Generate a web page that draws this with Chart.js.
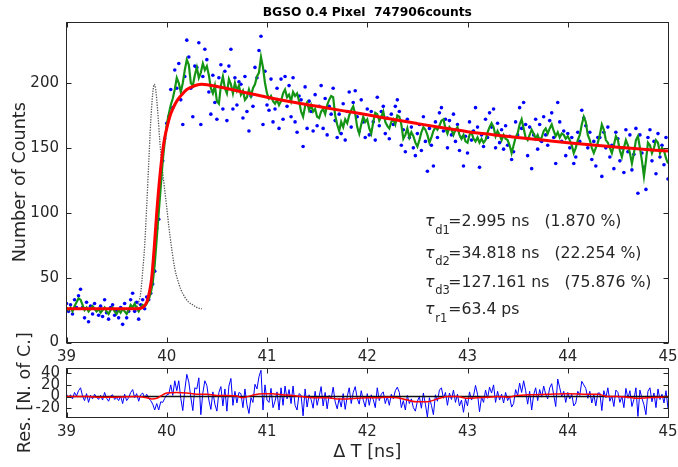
<!DOCTYPE html>
<html>
<head>
<meta charset="utf-8">
<script src="https://cdn.jsdelivr.net/npm/chart.js@4.4.0/dist/chart.umd.min.js"></script>
<style>
  html, body { margin: 0; padding: 0; background: #fff; }
  #wrap { position: relative; width: 678px; height: 467px; }
  #wrap canvas { position: absolute; left: 0; top: 0; }
</style>
</head>
<body>
<div id="wrap">
  <canvas id="decay" width="678" height="467"></canvas>
  <canvas id="resid" width="678" height="467"></canvas>
</div>
<script>
// time grid of the histogram (ns)
const T_START = 39, T_STEP = 0.02;

// measured counts (blue dots)
const counts = [
  30,24,29,22,33,27,36,41,27,19, 31,16,28,22,30,25,21,28,20,33,
  23,18,27,29,21,24,19,27,14,30, 19,24,33,38,24,31,18,29,33,26,
  35,33,38,45,55,88,95,126,140,157, 169,174,195,181,210,196,215,187,168,205,
  233,220,196,174,213,212,231,168,205,226, 218,193,176,206,185,172,204,214,180,209,
  171,213,226,180,204,183,201,199,173,205, 178,163,190,182,212,204,225,236,168,209,
  183,179,203,170,180,196,165,203,172,205, 182,198,174,204,170,162,190,187,151,197,
  165,186,178,163,191,167,182,198,165,188, 160,182,176,196,171,158,176,161,184,156,
  178,193,166,185,194,174,163,187,170,158, 180,160,178,170,156,189,167,178,182,161,
  173,157,176,168,182,187,178,152,164,147, 172,158,166,150,144,161,168,148,174,155,
  132,165,152,136,170,158,177,181,163,172, 150,171,160,176,155,168,148,158,136,159,
  146,170,156,163,181,166,135,160,151,172, 158,177,166,180,150,169,154,164,149,167,
  152,159,141,147,170,160,181,165,185,168, 144,166,134,160,172,149,168,155,174,160,
  152,171,177,158,138,185,170,155,163,144, 161,150,158,138,143,162,155,179,173,167,
  150,162,141,155,136,158,158,128,162,150, 166,143,152,134,162,157,140,150,131,164,
  147,160,133,145,165,115,160,146,135,118, 158,164,140,155,130,161,143,152,137,158,
  126
];

// smoothed counts (green line)
const smooth = [
  27,25,27,24,28,31,34,33,29,25, 27,24,26,28,26,24,26,23,25,27,
  24,22,25,27,24,22,25,23,26,24, 22,25,29,27,30,26,24,27,29,28,
  30,33,38,46,60,80,100,120,140,155, 168,176,183,188,195,204,200,193,200,210,
  218,214,200,198,206,212,204,208,215,210, 213,206,196,192,198,186,184,198,205,196,
  192,203,199,192,200,194,198,191,194,187, 189,195,190,196,199,205,208,220,212,200,
  192,188,190,186,184,187,183,186,192,195, 189,191,186,193,190,192,186,178,174,182,
  185,179,183,178,180,174,173,178,180,176, 183,187,190,189,175,168,163,170,166,172,
  169,175,179,182,176,166,161,168,174,170, 172,165,161,170,177,176,171,174,178,170,
  167,165,170,172,168,175,174,168,157,160, 165,158,162,159,154,151,156,162,166,164,
  160,154,158,163,166,164,167,171,172,165, 161,166,164,160,164,166,160,157,160,155,
  154,160,162,157,155,158,154,157,154,156, 162,166,169,166,159,163,160,156,160,157,
  156,152,146,152,158,161,168,172,165,158, 156,160,164,161,157,160,156,158,163,165,
  161,165,168,163,159,162,158,161,160,157, 159,156,152,146,150,156,160,168,174,170,
  160,156,150,146,150,154,160,168,164,156, 154,150,146,152,159,156,148,143,150,156,
  152,146,138,146,156,159,150,140,128,140, 154,152,146,150,156,154,146,150,148,142,
  138
];

// residuals (blue line, lower panel)
const resid = [
  4,-2,3,-4,7,1,10,15,1,-7, 5,-10,2,-4,4,-1,-5,2,-6,7,
  -3,-8,1,3,-5,-2,-7,1,-12,4, -7,-2,7,12,-2,5,-8,3,6,-2,
  4,-3,-7,-13,-23,-12,-23,-9,-10,-3, 3,4,20,2,27,10,27,-3,-24,11,
  38,25,-1,-24,15,13,32,-31,6,27, 19,-6,-22,8,-13,-25,7,17,-16,13,
  -25,18,31,-15,9,-11,7,5,-19,13, -14,-29,-2,-10,21,13,34,45,-23,20,
  -6,-10,14,-19,-8,8,-23,15,-15,18, -4,12,-12,18,-15,-23,5,2,-33,13,
  -18,3,-5,-20,9,-15,0,17,-16,7, -21,2,-4,16,-9,-21,-3,-18,5,-22,
  0,15,-12,7,17,-3,-13,10,-6,-18, 5,-15,3,-5,-19,15,-7,4,8,-12,
  0,-15,4,-4,10,16,7,-19,-7,-23, 2,-12,-4,-19,-25,-8,0,-20,6,-13,
  -35,-2,-15,-31,3,-8,11,15,-3,7, -15,6,-5,11,-10,4,-16,-6,-27,-4,
  -16,8,-6,1,19,4,-26,-1,-10,11, -3,16,6,20,-10,9,-6,4,-11,7,
  -7,0,-18,-12,12,2,23,7,27,10, -13,9,-23,3,15,-7,12,-1,18,4,
  -4,15,22,3,-17,30,15,0,9,-10, 7,-4,4,-16,-11,9,2,26,20,14,
  -3,9,-11,3,-16,6,6,-24,10,-2, 15,-8,1,-17,11,7,-10,0,-19,14,
  -3,10,-17,-5,15,-34,11,-3,-14,-31, 9,15,-9,6,-19,13,-5,4,-11,10,
  -21
];

// fitted model (red line, upper panel)
const fitT = [39.0, 39.5, 39.7, 39.76, 39.8, 39.83, 39.85, 39.875, 39.9, 39.93, 39.96, 39.98, 40.0, 40.03, 40.06,
              40.1, 40.15, 40.2, 40.25, 40.3, 40.35, 40.4, 40.5, 40.6, 40.8, 41.0, 41.25, 41.5, 41.75, 42.0,
              42.25, 42.5, 42.75, 43.0, 43.25, 43.5, 43.75, 44.0, 44.25, 44.5, 44.75, 45.0];
const fitY = [26, 26, 26, 27, 31, 40, 50, 73, 100, 127, 148, 158, 165, 174, 180,
              186, 191, 195, 197, 198.5, 199, 198.7, 197.3, 195.7, 192.3, 189, 185.3, 182, 178.7, 175.5,
              172, 168.7, 165.5, 162.5, 160.2, 158, 156, 154, 152.2, 150.5, 149, 147.5];

// instrument response (grey dotted)
const irfT = [39.66, 39.68, 39.70, 39.72, 39.74, 39.76, 39.78, 39.80, 39.82, 39.84, 39.86, 39.875, 39.89, 39.91,
              39.93, 39.95, 39.97, 40.00, 40.02, 40.05, 40.08, 40.11, 40.14, 40.18, 40.22, 40.26, 40.30, 40.35];
const irfY = [26, 26, 27, 31, 38, 55, 75, 105, 138, 170, 192, 199, 195, 178,
              156, 138, 124, 104, 90, 72, 57, 48, 41, 35, 31, 29, 27, 26];

// smoothed residual (red line, lower panel)
const resFitT = [39.0, 39.2, 39.3, 39.5, 39.7, 39.8, 39.85, 39.9, 39.95, 40.0, 40.1, 40.2, 40.3, 40.4, 40.5,
                 40.6, 40.7, 40.75, 40.85, 40.95, 41.05, 41.15, 41.25, 41.35, 41.45, 41.6, 41.7, 41.8, 41.9, 42.0,
                 42.1, 42.2, 42.3, 42.4, 42.5, 42.6, 42.7, 42.8, 42.9, 43.0, 43.1, 43.2, 43.3, 43.4, 43.5,
                 43.6, 43.8, 44.0, 44.2, 44.3, 44.4, 44.5, 44.6, 44.7, 44.8, 45.0];
const resFitY = [0, 0, -1, -1, 0, -2, -4, -3, 2, 6, 7, 6, 4, 4, 2,
                 2, 1, -2, 2, 5, 5, 3, 2, 0, -2, -2, -4, -4, -3, -2,
                 -2, -1, -2, -6, -9, -9, -4, 0, 0, -3, -2, -1, 0, -1, 2,
                 3, 4, 5, 4, 4, 0, 0, -1, -3, -2, -1];

// tick labels
const xTicks = [39, 40, 41, 42, 43, 44, 45];
const yTicks = [0, 50, 100, 150, 200];
const resTicks = [-20, 0, 20, 40];

const FONT = '"DejaVu Sans"';
const INK = '#262626';
Chart.defaults.font.family = FONT;

const onGrid = (arr) => arr.map((v, i) => ({ x: T_START + i * T_STEP, y: v }));
const pairs = (xs, ys) => xs.map((x, i) => ({ x: x, y: ys[i] }));
const setTicks = (list) => (s) => { s.ticks = list.map(v => ({ value: v })); };
const tickOpts = (pad) => ({ font: { size: 15 }, color: INK, padding: pad, autoSkip: false, maxRotation: 0 });

// box round the plot area with inward tick marks
const frame = {
  id: 'frame',
  afterDraw(chart) {
    const { ctx, chartArea: a, scales } = chart;
    const L = Math.floor(a.left) + 0.5, R = Math.floor(a.right) + 0.5;
    const T = Math.floor(a.top) + 0.5, B = Math.floor(a.bottom) + 0.5;
    ctx.save();
    ctx.strokeStyle = INK;
    ctx.lineWidth = 1;
    ctx.strokeRect(L, T, R - L, B - T);
    ctx.beginPath();
    scales.x.ticks.forEach(t => {
      const px = Math.round(scales.x.getPixelForValue(t.value)) + 0.5;
      ctx.moveTo(px, B); ctx.lineTo(px, B - 5);
      ctx.moveTo(px, T); ctx.lineTo(px, T + 5);
    });
    scales.y.ticks.forEach(t => {
      const py = Math.round(scales.y.getPixelForValue(t.value)) + 0.5;
      ctx.moveTo(L, py); ctx.lineTo(L + 5, py);
      ctx.moveTo(R, py); ctx.lineTo(R - 5, py);
    });
    ctx.stroke();
    ctx.restore();
  }
};

function tauLine(ctx, x, y, sub, rest) {
  ctx.textAlign = 'left';
  ctx.textBaseline = 'alphabetic';
  ctx.font = 'italic 15.7px ' + FONT;
  ctx.fillText('τ', x, y);
  ctx.font = '11.5px ' + FONT;
  ctx.fillText(sub, x + 10.2, y + 7.5);
  ctx.font = '15.7px ' + FONT;
  ctx.fillText(rest, x + 23.3, y);
}

const decayText = {
  id: 'decayText',
  afterDraw(chart) {
    const ctx = chart.ctx, a = chart.chartArea;
    ctx.save();
    ctx.fillStyle = '#000';
    ctx.font = 'bold 12.3px ' + FONT;
    ctx.textAlign = 'center';
    ctx.textBaseline = 'alphabetic';
    ctx.fillText('BGSO 0.4 Pixel  747906counts', (a.left + a.right) / 2, 15.7);

    ctx.fillStyle = INK;
    ctx.save();
    ctx.translate(25, (a.top + a.bottom) / 2);
    ctx.rotate(-Math.PI / 2);
    ctx.font = '17.6px ' + FONT;
    ctx.fillText('Number of Counts', 0, 0);
    ctx.restore();

    tauLine(ctx, 425, 226, 'd1', '=2.995 ns   (1.870 %)');
    tauLine(ctx, 425, 257.5, 'd2', '=34.818 ns   (22.254 %)');
    tauLine(ctx, 425, 286.5, 'd3', '=127.161 ns   (75.876 %)');
    tauLine(ctx, 425, 314, 'r1', '=63.4 ps');
    ctx.restore();
  }
};

const residText = {
  id: 'residText',
  afterDraw(chart) {
    const ctx = chart.ctx, a = chart.chartArea;
    ctx.save();
    ctx.fillStyle = INK;
    ctx.font = '17.6px ' + FONT;
    ctx.textAlign = 'center';
    ctx.textBaseline = 'alphabetic';
    ctx.fillText('Δ T [ns]', (a.left + a.right) / 2, 456.5);
    ctx.translate(29.5, (a.top + a.bottom) / 2);
    ctx.rotate(-Math.PI / 2);
    ctx.fillText('Res. [N. of C.]', 0, 0);
    ctx.restore();
  }
};

const baseOptions = (padTop, xHeight, yMin, yMax, yList, yPad) => ({
  responsive: false,
  animation: false,
  events: [],
  layout: { padding: { left: 0, right: 10, top: padTop, bottom: 0 } },
  plugins: { legend: { display: false }, tooltip: { enabled: false } },
  scales: {
    x: {
      type: 'linear', min: 39, max: 45,
      grid: { display: false, drawTicks: false }, border: { display: false },
      ticks: tickOpts(6),
      afterBuildTicks: setTicks(xTicks),
      afterFit: (s) => { s.height = xHeight; s.paddingLeft = 0; s.paddingRight = 0; }
    },
    y: {
      type: 'linear', min: yMin, max: yMax,
      grid: { display: false, drawTicks: false }, border: { display: false },
      ticks: tickOpts(yPad),
      afterBuildTicks: setTicks(yList),
      afterFit: (s) => { s.width = 66.5; s.paddingTop = 0; s.paddingBottom = 0; }
    }
  }
});

new Chart(document.getElementById('decay'), {
  type: 'scatter',
  data: {
    datasets: [
      { label: 'fit', data: pairs(fitT, fitY), showLine: true, borderColor: '#ff0000', borderWidth: 3,
        pointRadius: 0, cubicInterpolationMode: 'monotone' },
      { label: 'smoothed', data: onGrid(smooth), showLine: true, borderColor: '#149414', borderWidth: 2.2,
        pointRadius: 0 },
      { label: 'counts', data: onGrid(counts), showLine: false, backgroundColor: '#0000ff',
        pointRadius: 1.8, pointBorderWidth: 0 },
      { label: 'IRF', data: pairs(irfT, irfY), showLine: true, borderColor: '#555555', borderWidth: 1.3,
        borderDash: [1.3, 1.3], pointRadius: 0, cubicInterpolationMode: 'monotone' }
    ]
  },
  options: baseOptions(22, 124.5, 0, 247, yTicks, 7.5),
  plugins: [frame, decayText]
});

new Chart(document.getElementById('resid'), {
  type: 'scatter',
  data: {
    datasets: [
      { label: 'residual fit', data: pairs(resFitT, resFitY), showLine: true, borderColor: '#ff0000',
        borderWidth: 1.5, pointRadius: 0, cubicInterpolationMode: 'monotone' },
      { label: 'zero', data: [{ x: xTicks[0], y: 0 }, { x: xTicks[xTicks.length - 1], y: 0 }], showLine: true,
        borderColor: '#111', borderWidth: 1.5, pointRadius: 0 },
      { label: 'residual', data: onGrid(resid), showLine: true, borderColor: '#0000ff', borderWidth: 1,
        pointRadius: 0 }
    ]
  },
  options: baseOptions(368.5, 50, -35, 48, resTicks, 6.5),
  plugins: [frame, residText]
});
</script>
</body>
</html>
